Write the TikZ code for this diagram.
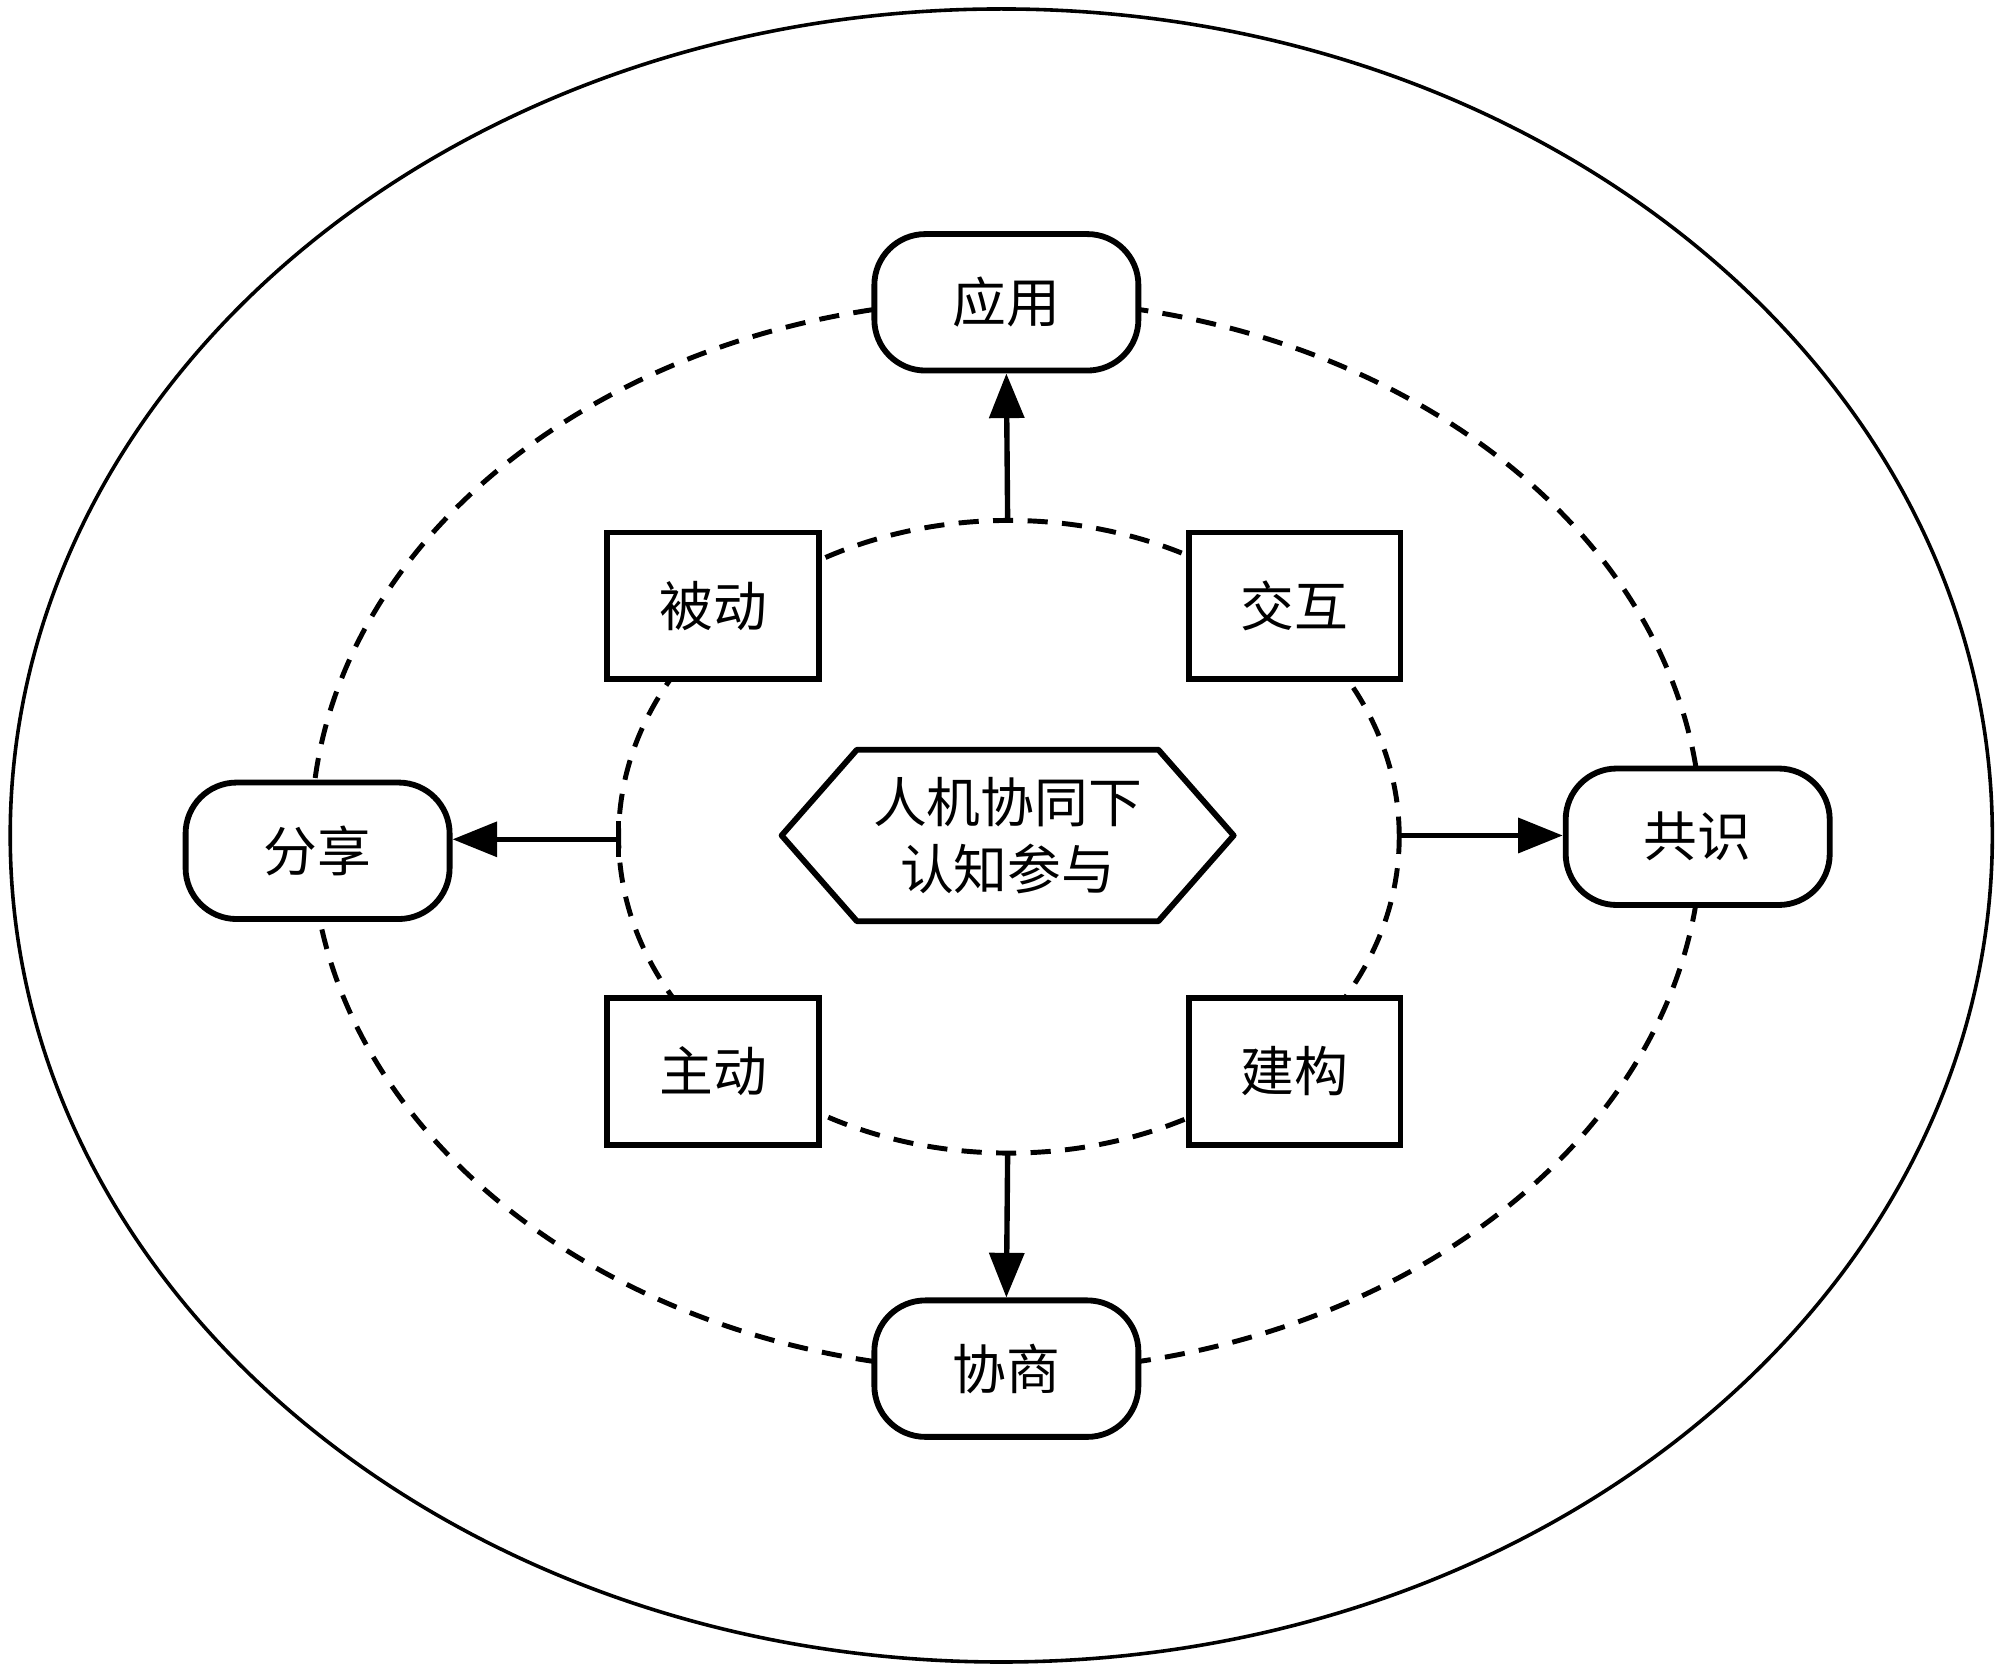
\documentclass[tikz,border=0pt]{standalone}
\usepackage{fontspec}
\newfontfamily\cjk{Noto Sans CJK SC}
\usetikzlibrary{arrows.meta}
\tikzset{
  lbl/.style={font=\cjk\fontsize{12pt}{15pt}\selectfont, inner sep=0pt},
  sqbox/.style={lbl, draw, line width=1.3pt, fill=white, minimum width=16.6mm, minimum height=11.5mm},
  rbox/.style={lbl, draw, line width=1.3pt, fill=white, rounded corners=4mm, minimum width=20.7mm, minimum height=10.7mm},
  dashring/.style={line width=1.1pt, dash pattern=on 4.5pt off 3.2pt},
  arr/.style={line width=1.2pt, -{Triangle[length=3.5mm,width=2.7mm]}},
}
\begin{document}
\begin{tikzpicture}[x=0.1mm, y=-0.1mm]
\useasboundingbox (0,0) rectangle (1568,1311);
% outer ellipse
\draw[line width=0.8pt] (785,655) ellipse [x radius=77.7mm, y radius=64.8mm];
% middle dashed ellipse
\draw[dashring] (789,655) ellipse [x radius=54.5mm, y radius=42mm];
% inner dashed ellipse
\draw[dashring] (791,656) ellipse [x radius=30.6mm, y radius=24.8mm];
\coordinate (itop) at (790,408);
\coordinate (ibot) at (790,904);
\coordinate (ileft) at (485,658);
\coordinate (iright) at (1097,655);
% small tick at left start
\draw[line width=1.1pt] (485,644) -- (485,672);
% square boxes
\node[sqbox] (passive) at (559,475) {被动};
\node[sqbox] (interact) at (1015,475) {交互};
\node[sqbox] (active) at (559,840) {主动};
\node[sqbox] (construct) at (1015,840) {建构};
% rounded boxes
\node[rbox] (apply) at (789,237) {应用};
\node[rbox] (negot) at (789,1073) {协商};
\node[rbox] (share) at (249,667) {分享};
\node[rbox] (cons) at (1331,656) {共识};
% centre hexagon
\node[lbl, align=center, minimum width=35.3mm, minimum height=13.3mm] (core) at (790,655) {人机协同下\\认知参与};
\draw[line width=1.3pt, line join=round] (core.west) -- ([xshift=5.9mm]core.north west) -- ([xshift=-5.9mm]core.north east) -- (core.east) -- ([xshift=-5.9mm]core.south east) -- ([xshift=5.9mm]core.south west) -- cycle;
% arrows
\draw[arr] (itop) -- (apply.south);
\draw[arr] (ibot) -- (negot.north);
\draw[arr] (ileft) -- (share.east |- ileft);
\draw[arr] (iright) -- (cons.west |- iright);
\end{tikzpicture}
\end{document}
